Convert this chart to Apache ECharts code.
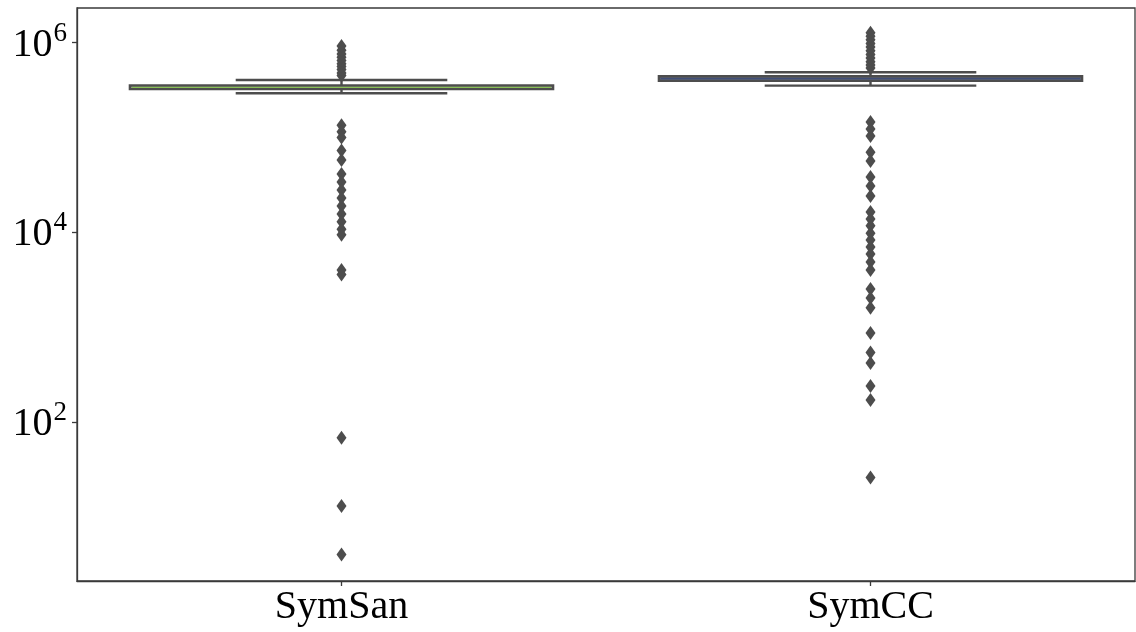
<!DOCTYPE html>
<html>
<head>
<meta charset="utf-8">
<script src="https://cdn.jsdelivr.net/npm/echarts@6/dist/echarts.min.js"></script>
<style>html,body{margin:0;padding:0;background:#fff}#c{width:1136px;height:632px}</style>
</head>
<body>
<div id="c"></div>
<script>
const categories = ['SymSan', 'SymCC'];
// [lower whisker, Q1, median, Q3, upper whisker]
const symsanBox = [2.93e5, 3.24e5, 3.38e5, 3.53e5, 4.04e5];
const symccBox = [3.52e5, 3.95e5, 4.17e5, 4.42e5, 4.87e5];
const symsanOutliers = [4.5e5, 4.8e5, 5.2e5, 5.6e5, 6.0e5, 6.5e5, 7.0e5, 7.6e5, 8.3e5, 9.2e5,
  1.35e5, 1.15e5, 1.0e5, 7.3e4, 5.8e4, 4.12e4, 3.4e4, 2.8e4, 2.3e4, 1.9e4, 1.56e4,
  1.29e4, 1.08e4, 9.4e3, 4.0e3, 3.6e3, 68, 13, 4.0];
const symccOutliers = [5.4e5, 5.8e5, 6.3e5, 6.9e5, 7.5e5, 8.2e5, 9.0e5, 9.8e5, 1.07e6, 1.17e6, 1.27e6,
  1.46e5, 1.23e5, 1.04e5, 7.0e4, 5.66e4, 3.84e4, 3.08e4, 2.42e4,
  1.64e4, 1.38e4, 1.17e4, 9.8e3, 8.3e3, 7.0e3, 5.9e3, 4.87e3, 4.0e3,
  2.53e3, 2.03e3, 1.6e3, 869, 542, 419, 240, 171, 26];
const yTickValues = [100, 10000, 1000000];
const boxFills = ['#9a9a9a', '#5a6278'];
const medianColors = ['#86c84a', '#3c4a78'];

const boxes = [symsanBox, symccBox];
const boxData = boxes.map((b, i) => [i].concat(b));
const outlierData = [];
symsanOutliers.forEach(v => outlierData.push([0, v]));
symccOutliers.forEach(v => outlierData.push([1, v]));

const lineColor = '#4d4d4d';
const serif = '"Liberation Serif", "Times New Roman", serif';

const chart = echarts.init(document.getElementById('c'), null, {renderer: 'canvas'});
chart.setOption({
  animation: false,
  backgroundColor: '#fff',
  grid: {left: 77, right: 1, top: 8, bottom: 51, show: true, borderColor: '#3a3a3a', borderWidth: 1.3, containLabel: false},
  xAxis: {
    type: 'category',
    data: categories,
    axisLine: {show: true, lineStyle: {color: '#3a3a3a', width: 1.3}},
    axisTick: {show: true, alignWithLabel: true, length: 5, lineStyle: {color: '#3a3a3a', width: 1.3}},
    axisLabel: {fontFamily: serif, fontSize: 40, color: '#000', margin: 6},
    splitLine: {show: false}
  },
  yAxis: {
    type: 'log',
    logBase: 10,
    min: 2.105,
    max: 2.32e6,
    axisLine: {show: true, lineStyle: {color: '#3a3a3a', width: 1.3}},
    axisTick: {show: true, length: 5, customValues: yTickValues, lineStyle: {color: '#3a3a3a', width: 1.3}},
    minorTick: {show: false},
    splitLine: {show: false},
    axisLabel: {
      customValues: yTickValues,
      margin: 10,
      color: '#000',
      formatter: function (v) {
        const e = Math.round(Math.log10(v));
        return '{b|10}{s|' + e + '}';
      },
      rich: {
        b: {fontFamily: serif, fontSize: 40, color: '#000', verticalAlign: 'bottom'},
        s: {fontFamily: serif, fontSize: 27, color: '#000', verticalAlign: 'top', padding: [0, 0, 18, 1]}
      }
    }
  },
  series: [
    {
      type: 'custom',
      data: boxData,
      encode: {x: 0, y: [1, 2, 3, 4, 5]},
      z: 2,
      renderItem: function (params, api) {
        const idx = api.value(0);
        const catW = api.size([1, 0])[0];
        const half = catW * 0.8 / 2;
        const capHalf = half / 2;
        const pLo = api.coord([idx, api.value(1)]);
        const pQ1 = api.coord([idx, api.value(2)]);
        const pMed = api.coord([idx, api.value(3)]);
        const pQ3 = api.coord([idx, api.value(4)]);
        const pHi = api.coord([idx, api.value(5)]);
        const x = pMed[0];
        const ls = {stroke: lineColor, lineWidth: 2.4};
        return {
          type: 'group',
          children: [
            {type: 'rect', shape: {x: x - half, y: pQ3[1], width: half * 2, height: pQ1[1] - pQ3[1]},
              style: {fill: boxFills[idx], stroke: lineColor, lineWidth: 2.4}},
            {type: 'line', shape: {x1: x, y1: pQ1[1], x2: x, y2: pLo[1]}, style: ls},
            {type: 'line', shape: {x1: x, y1: pQ3[1], x2: x, y2: pHi[1]}, style: ls},
            {type: 'line', shape: {x1: x - capHalf, y1: pLo[1], x2: x + capHalf, y2: pLo[1]}, style: ls},
            {type: 'line', shape: {x1: x - capHalf, y1: pHi[1], x2: x + capHalf, y2: pHi[1]}, style: ls},
            {type: 'line', shape: {x1: x - half + 2, y1: pMed[1], x2: x + half - 2, y2: pMed[1]}, style: {stroke: medianColors[idx], lineWidth: 1}}
          ]
        };
      }
    },
    {
      type: 'scatter',
      data: outlierData,
      symbol: 'diamond',
      symbolSize: [10, 14],
      itemStyle: {color: lineColor, opacity: 1},
      z: 3
    }
  ]
});
</script>
</body>
</html>
